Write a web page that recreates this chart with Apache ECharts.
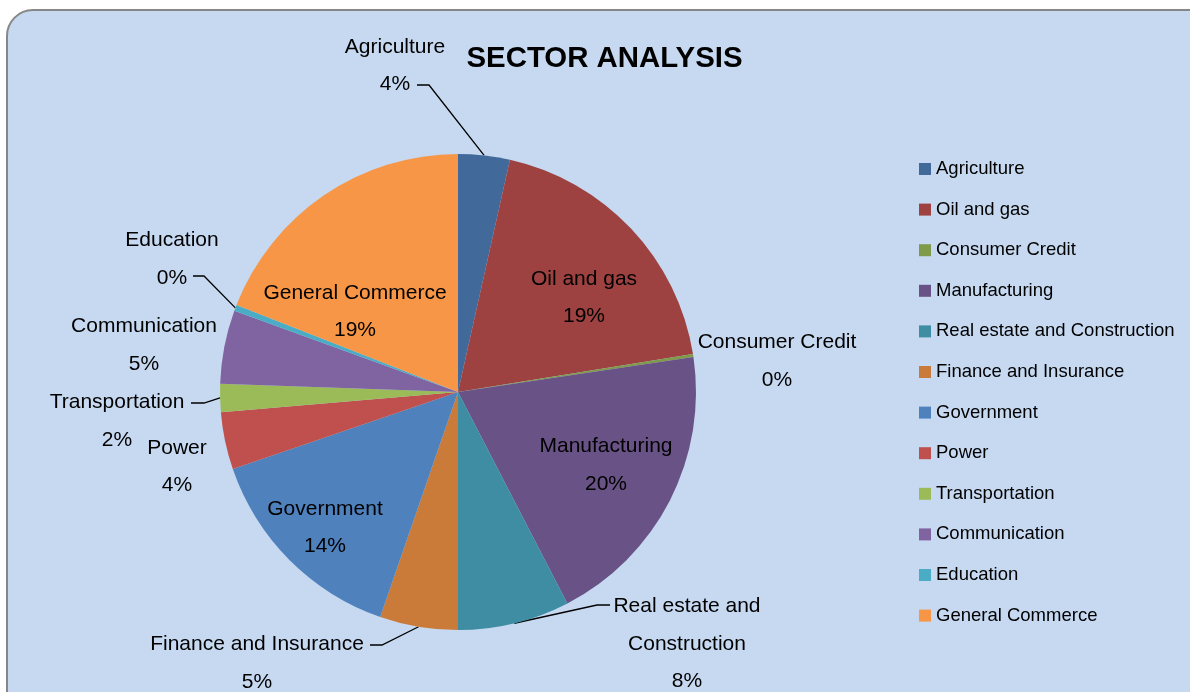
<!DOCTYPE html>
<html><head><meta charset="utf-8">
<script src="https://cdn.jsdelivr.net/npm/echarts@6/dist/echarts.min.js"></script>
<style>html,body{margin:0;padding:0;background:#fff;}#c{width:1190px;height:692px;}</style>
</head><body><div id="c"></div>
<script>
// ---- data ----
const categories = ['Agriculture','Oil and gas','Consumer Credit','Manufacturing','Real estate and Construction','Finance and Insurance','Government','Power','Transportation','Communication','Education','General Commerce'];
const values = [3.5, 18.95, 0.2, 19.75, 7.6, 5.3, 14.45, 3.9, 1.9, 5.0, 0.4, 19.05];
const labelTexts = ['Agriculture','Oil and gas','Consumer Credit','Manufacturing','Real estate and\nConstruction','Finance and Insurance','Government','Power','Transportation','Communication','Education','General Commerce'];
const colors = ['#416A9B','#9D4240','#7F9A49','#695285','#3E8DA3','#CB7B39','#4F81BD','#C0504D','#9BBB59','#8064A2','#4BACC6','#F79646'];
const titleText = 'SECTOR ANALYSIS';

// ---- layout (not data) ----
const CX = 458, CY = 392, R = 238;
const labelPlace = {
  'Agriculture': {x:395, y:65.5, line:[[429,85],[417,85]]},
  'Oil and gas': {x:584, y:297.5},
  'Consumer Credit': {x:777, y:361},
  'Manufacturing': {x:606, y:465},
  'Real estate and Construction': {x:687, y:644, line:[[597,605],[610,605]]},
  'Finance and Insurance': {x:257, y:663, line:[[382,645],[370,645]]},
  'Government': {x:325, y:527.5},
  'Power': {x:177, y:466.5},
  'Transportation': {x:117, y:421, line:[[204,403],[191,403]]},
  'Communication': {x:144, y:345},
  'Education': {x:172, y:259, line:[[204,276],[193,276]]},
  'General Commerce': {x:355, y:311.5}
};

const total = values.reduce((a,b)=>a+b,0);
const midAngles = [];
let cum = 0;
values.forEach(v => { midAngles.push((cum + v/2) / total * 2 * Math.PI); cum += v; });

const chart = echarts.init(document.getElementById('c'), null, {renderer:'canvas'});
const data = categories.map((n,i) => {
  const lp = labelPlace[n];
  return {
    name: n, value: values[i],
    itemStyle: {color: colors[i]},
    labelLine: {show: !!lp.line}
  };
});

chart.setOption({
  animation: false,
  graphic: [
    {type:'rect', z:-10, shape:{x:7, y:10, width:1220, height:720, r:26},
     style:{fill:'#C6D9F1', stroke:'#878787', lineWidth:2}},
    {type:'text', x:604.5, y:59, z:10,
     style:{text:titleText, fill:'#000', font:'bold 29.4px "Liberation Sans", Arial, sans-serif', textAlign:'center', textVerticalAlign:'middle'}}
  ],
  legend: {
    orient:'vertical', left:919, top:159, padding:0,
    itemWidth:12, itemHeight:12, itemGap:20.6, icon:'rect',
    textStyle:{fontSize:18.5, lineHeight:20, color:'#000', fontFamily:'"Liberation Sans", Arial, sans-serif'},
    data: categories
  },
  series: [{
    type:'pie', center:[CX, CY], radius:R, startAngle:90, clockwise:true,
    avoidLabelOverlap:false, silent:true,
    label: {
      show:true, position:'outside', color:'#000', fontSize:21, lineHeight:37.5,
      fontFamily:'"Liberation Sans", Arial, sans-serif',
      formatter: p => labelTexts[p.dataIndex] + '\n' + Math.round(p.percent) + '%'
    },
    labelLine: {show:true, length:10, length2:10, lineStyle:{color:'#000', width:1.3}},
    labelLayout: function (params) {
      const n = categories[params.dataIndex];
      const lp = labelPlace[n];
      const out = {x: lp.x, y: lp.y, align:'center', verticalAlign:'middle'};
      if (lp.line) {
        const a = midAngles[params.dataIndex];
        const anchor = [CX + R * Math.sin(a), CY - R * Math.cos(a)];
        out.labelLinePoints = [anchor, lp.line[0], lp.line[1]];
      }
      return out;
    },
    data: data
  }]
});
</script></body></html>
